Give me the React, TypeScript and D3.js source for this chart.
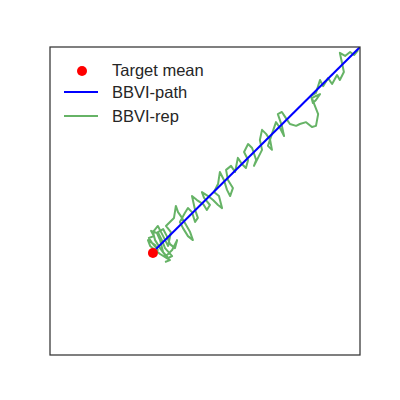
import React from "react";
import * as d3 from "d3";

const targetMean: [number, number] = [3.32, 3.31];
const pathX = [3.42, 10.32];
const pathY = [3.44, 10.32];
const repX = [3.71, 3.87, 3.55, 3.23, 3.16, 3.39, 3.48, 3.29, 3.19, 3.35, 3.26, 3.45, 3.55, 3.65, 3.81, 3.94, 3.71, 3.61, 3.48, 3.65, 3.77, 3.87, 4.03, 4.10, 3.94, 3.74, 3.55, 3.39, 3.32, 3.48, 3.65, 3.81, 3.90, 3.74, 3.87, 4.00, 4.06, 4.13, 4.26, 4.39, 4.52, 4.61, 4.45, 4.29, 4.19, 4.35, 4.45, 4.58, 4.68, 4.77, 4.68, 4.58, 4.74, 4.94, 5.06, 5.16, 4.97, 4.90, 5.10, 5.26, 5.42, 5.55, 5.45, 5.29, 5.42, 5.48, 5.61, 5.71, 5.81, 5.90, 5.74, 5.68, 5.84, 5.97, 6.06, 6.19, 6.32, 6.39, 6.26, 6.39, 6.52, 6.65, 6.58, 6.71, 6.84, 6.77, 6.84, 6.97, 7.10, 7.16, 7.03, 7.16, 7.29, 7.42, 7.55, 7.48, 7.35, 7.48, 7.61, 7.74, 7.94, 8.06, 8.26, 8.45, 8.58, 8.65, 8.52, 8.45, 8.58, 8.71, 8.58, 8.48, 8.42, 8.58, 8.71, 8.81, 8.97, 9.10, 9.26, 9.35, 9.48, 9.42, 9.35, 9.52, 9.68, 9.81, 9.94];
const repY = [3.02, 3.08, 3.28, 3.54, 3.73, 3.57, 3.41, 3.64, 3.80, 3.86, 4.03, 3.96, 3.73, 3.34, 3.15, 3.21, 3.47, 3.73, 3.99, 4.09, 3.86, 3.60, 3.47, 3.73, 3.41, 3.21, 3.47, 3.73, 3.99, 4.19, 3.86, 3.54, 3.99, 4.19, 4.32, 4.45, 4.84, 4.64, 4.45, 4.22, 3.99, 3.73, 3.86, 4.12, 4.32, 4.61, 4.77, 4.64, 4.32, 4.45, 4.71, 5.16, 5.03, 4.90, 4.71, 4.87, 5.10, 5.29, 5.16, 5.03, 4.87, 4.77, 5.16, 5.29, 5.55, 5.94, 5.68, 5.36, 5.16, 5.42, 5.68, 6.01, 6.14, 5.94, 6.40, 6.20, 6.07, 6.33, 6.59, 6.85, 6.72, 6.33, 6.14, 6.40, 6.66, 6.98, 7.31, 7.18, 6.98, 6.66, 6.79, 7.18, 7.56, 7.37, 7.11, 7.44, 7.82, 7.89, 7.69, 7.50, 7.44, 7.50, 7.56, 7.40, 7.44, 7.82, 8.15, 8.34, 8.41, 8.47, 8.28, 8.18, 8.41, 8.51, 8.93, 8.73, 8.99, 8.80, 9.09, 8.93, 9.19, 9.48, 9.81, 9.71, 9.84, 9.74, 9.90];
const legendLabels = ["Target mean", "BBVI-path", "BBVI-rep"];

const W = 400, H = 400;
const left = 50, right = 360, top = 47, bottom = 355;

export default function App() {
  const x = d3.scaleLinear().domain([0, 10]).range([left, right]);
  const y = d3.scaleLinear().domain([0, 10]).range([bottom, top]);
  const line = d3.line<[number, number]>().x(d => x(d[0])).y(d => y(d[1]));
  const rep: [number, number][] = repX.map((v, i) => [v, repY[i]]);
  const path: [number, number][] = pathX.map((v, i) => [v, pathY[i]]);
  const font = "'Liberation Sans', Arial, sans-serif";
  return (
    <svg width={W} height={H} style={{ position: "absolute", left: 0, top: 0 }}>
      <rect width={W} height={H} fill="#fff" />
      <defs>
        <clipPath id="plot">
          <rect x={left} y={top} width={right - left} height={bottom - top} />
        </clipPath>
      </defs>
      <g clipPath="url(#plot)">
        <path d={line(rep) || ""} fill="none" stroke="#66b366" strokeWidth={2} strokeLinejoin="round" />
        <path d={line(path) || ""} fill="none" stroke="#0000ff" strokeWidth={2} />
        <circle cx={x(targetMean[0])} cy={y(targetMean[1])} r={5} fill="#ff0000" />
      </g>
      <rect x={left} y={top} width={right - left} height={bottom - top} fill="none" stroke="#333" strokeWidth={1.25} />
      <g fontFamily={font} fontSize={16.5} fill="#262626">
        <circle cx={82} cy={71} r={5} fill="#ff0000" />
        <text x={112} y={76}>{legendLabels[0]}</text>
        <line x1={64} x2={98} y1={92} y2={92} stroke="#0000ff" strokeWidth={2} />
        <text x={112} y={98}>{legendLabels[1]}</text>
        <line x1={64} x2={98} y1={116} y2={116} stroke="#66b366" strokeWidth={2} />
        <text x={112} y={122}>{legendLabels[2]}</text>
      </g>
    </svg>
  );
}
